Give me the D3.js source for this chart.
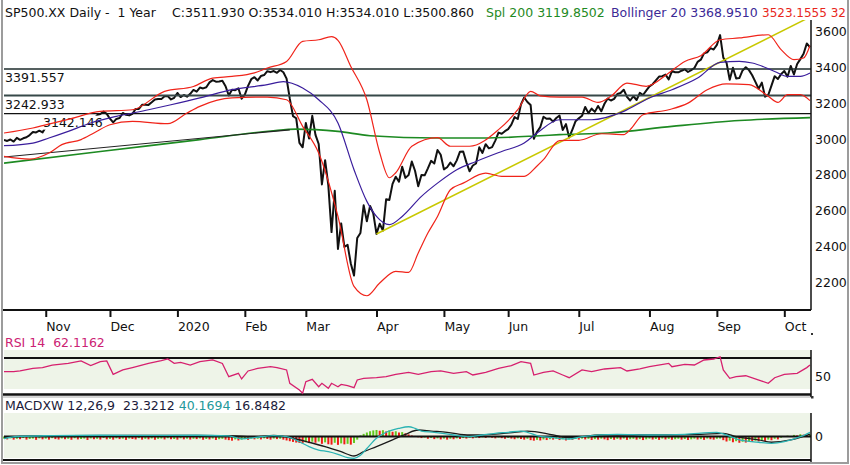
<!DOCTYPE html>
<html>
<head>
<meta charset="utf-8">
<script src="https://cdn.jsdelivr.net/npm/d3@7"></script>
<style>
  body { margin: 0; background: #fff; }
  svg { display: block; font-family: "DejaVu Sans", sans-serif; }
  text { white-space: pre; }
</style>
</head>
<body>
<div id="chart"></div>
<script>
// ---------------- data (trading day index 0 = 15 Oct 2019, 251 = 13 Oct 2020) ----------------
const closes = [
  2995.68, 2989.69, 2997.95, 2986.20, 3006.72, 2995.99, 3004.52, 3010.29, 3022.55, 3039.42, 3036.89, 3046.77, 3037.56,
  3066.91, 3078.27, 3074.62, 3076.78, 3085.18, 3093.08, 3087.01, 3091.84, 3094.04, 3096.63, 3120.46, 3122.03, 3120.18, 3108.46, 3103.54, 3110.29, 3133.64, 3140.52, 3153.63, 3140.98,
  3113.87, 3093.20, 3112.76, 3117.43, 3145.91, 3135.96, 3132.52, 3141.63, 3168.57, 3168.80, 3191.45, 3192.52, 3191.14, 3205.37, 3221.22, 3224.01, 3223.38, 3239.91, 3240.02, 3221.29, 3230.78,
  3257.85, 3234.85, 3246.28, 3237.18, 3253.05, 3274.70, 3265.35, 3288.13, 3283.15, 3289.29, 3316.81, 3329.62, 3320.79, 3321.75, 3325.54, 3295.47, 3243.63, 3276.24, 3273.40, 3283.66, 3225.52,
  3248.92, 3297.59, 3334.69, 3345.78, 3327.71, 3352.09, 3357.75, 3379.45, 3373.94, 3380.16, 3370.29, 3386.15, 3373.23, 3337.75, 3225.89, 3128.21, 3116.39, 2978.76, 2954.22,
  3090.23, 3003.37, 3130.12, 3023.94, 2972.37, 2746.56, 2882.23, 2741.38, 2480.64, 2711.02, 2386.13, 2529.19, 2398.10, 2409.39, 2304.92, 2237.40, 2447.33, 2475.56, 2630.07, 2541.47, 2626.65, 2584.59,
  2470.50, 2526.90, 2488.65, 2663.68, 2659.41, 2749.98, 2789.82, 2761.63, 2846.06, 2783.36, 2799.55, 2874.56, 2823.16, 2736.56, 2799.31, 2797.80, 2836.74, 2878.48, 2863.39, 2939.51, 2912.43,
  2830.71, 2842.74, 2868.44, 2848.42, 2881.19, 2929.80, 2930.32, 2870.12, 2820.00, 2852.50, 2863.70, 2953.91, 2922.94, 2971.61, 2948.51, 2955.45, 2991.77, 3036.13, 3029.73, 3044.31,
  3055.73, 3080.82, 3122.87, 3112.35, 3193.93, 3232.39, 3207.18, 3190.14, 3002.10, 3041.31, 3066.59, 3124.74, 3113.49, 3115.34, 3097.74, 3117.86, 3131.29, 3050.33, 3083.76, 3009.05, 3053.24, 3100.29,
  3115.86, 3130.01, 3179.72, 3145.32, 3169.94, 3152.05, 3185.04, 3155.22, 3197.52, 3226.56, 3215.57, 3224.73, 3251.84, 3257.30, 3276.02, 3235.66, 3215.63, 3239.41, 3218.44, 3258.44, 3246.22, 3271.12,
  3294.61, 3306.51, 3327.77, 3349.16, 3351.28, 3360.47, 3333.69, 3380.35, 3373.43, 3372.85, 3381.99, 3389.78, 3374.85, 3385.51, 3397.16, 3431.28, 3443.62, 3478.73, 3484.55, 3508.01, 3500.31,
  3526.65, 3580.84, 3455.06, 3426.96, 3331.84, 3398.96, 3339.19, 3340.97, 3383.54, 3401.20, 3385.49, 3357.01, 3319.47, 3281.06, 3315.57, 3236.92, 3246.59, 3298.46, 3351.60, 3335.47, 3363.00,
  3380.80, 3348.44, 3408.63, 3360.97, 3419.44, 3446.83, 3477.13, 3534.22, 3511.93
];

const monthTickIdx = [13, 33, 54, 75, 94, 116, 137, 157, 179, 201, 222, 243];
const monthLabels = ["Nov", "Dec", "2020", "Feb", "Mar", "Apr", "May", "Jun", "Jul", "Aug", "Sep", "Oct"];
const priceTicks = [2200, 2400, 2600, 2800, 3000, 3200, 3400, 3600];
const levels = [3391.557, 3242.933, 3142.146];

// [day index, value]
const bbUpper = [[0,3034],[9,3062],[12,3075],[20,3110],[30,3155],[40,3164],[50,3267],[59,3294],[65,3341],[71,3350],[78,3370],[82,3397],[88,3434],[93,3546],[98,3555],[102,3572],[104,3552],[108,3406],[113,3220],[117,2924],[120,2784],[122,2812],[127,2960],[135,3008],[139,2960],[145,2960],[154,3053],[160,3164],[164,3267],[167,3242],[173,3235],[180,3235],[185,3205],[189,3239],[194,3313],[200,3295],[207,3369],[212,3434],[217,3466],[223,3555],[229,3565],[238,3583],[242,3500],[246,3444],[249,3453],[251,3523]];
const bbMiddle = [[0,2963],[9,2978],[14,3006],[20,3043],[27,3090],[35,3127],[45,3164],[52,3192],[61,3230],[71,3276],[82,3304],[87,3321],[93,3285],[98,3220],[104,3090],[109,2829],[113,2652],[116,2568],[120,2522],[124,2568],[130,2680],[135,2754],[141,2829],[147,2875],[155,2931],[162,2978],[166,3034],[173,3108],[183,3108],[193,3155],[201,3230],[208,3276],[216,3341],[223,3429],[229,3434],[233,3425],[240,3378],[244,3350],[248,3350],[251,3369]];
const bbLower = [[0,2903],[8,2888],[14,2922],[18,2969],[24,2997],[28,3034],[33,3080],[40,3099],[51,3086],[57,3146],[61,3183],[71,3230],[82,3235],[88,3220],[93,3071],[98,2922],[104,2568],[109,2177],[113,2125],[117,2196],[122,2261],[126,2255],[129,2364],[132,2475],[135,2568],[139,2717],[143,2754],[150,2810],[155,2792],[162,2792],[166,2850],[168,2885],[173,2992],[179,2993],[186,3030],[193,3025],[195,3053],[199,3136],[207,3164],[213,3201],[219,3276],[225,3309],[232,3304],[238,3239],[241,3205],[244,3248],[248,3248],[251,3215]];
const sma200 = [[0,2866],[30,2931],[61,2997],[83,3045],[91,3056],[104,3043],[114,3019],[135,3006],[149,3006],[167,3019],[173,3025],[188,3034],[208,3071],[229,3104],[251,3120]];
const trendBlack = [[0,2900],[89,3052]];
const trendYellow = [[116,2470],[251,3682]];

const rsi = [[0,54.8],[3,54.8],[5,55.6],[9,58.5],[12,59.3],[15,62.2],[20,64],[24,66.7],[27,61.5],[30,65.9],[32,66.7],[34,51.9],[37,56.7],[40,59.3],[45,64],[49,67],[51,68.9],[53,64],[55,65.2],[58,62.2],[61,65.9],[65,67.8],[68,64],[70,49.2],[73,53],[74,46.7],[76,55.6],[79,58.5],[83,60.3],[85,59.3],[88,56.7],[89,41.9],[92,34.4],[93,30.8],[94,43.7],[96,46.3],[98,38.1],[99,41.9],[101,36.3],[102,41.9],[104,38.1],[105,40.7],[107,39.2],[109,37],[110,45.6],[112,47.4],[116,48.1],[119,49.2],[122,51.9],[126,54.1],[129,51.9],[133,54.8],[136,55.6],[140,53],[144,54.8],[146,51.1],[150,54.1],[154,58.5],[158,61.5],[161,65.9],[164,64],[165,51.1],[168,54.1],[171,55.6],[174,51.1],[176,48.1],[180,56.7],[183,54.8],[187,57.8],[192,59.3],[194,55.6],[198,57.8],[201,60.3],[207,64],[208,60.3],[212,63],[215,62.2],[218,67.8],[221,68.9],[223,71.4],[224,56.7],[226,47.4],[228,49.2],[231,50.3],[236,44.4],[238,41.9],[240,48.1],[243,51.9],[247,53],[250,59.3],[251,62.1]];
const rsiTicks = [50];

const macd = [[0,-20],[4,0],[15,8],[30,12],[45,10],[60,12],[70,5],[74,-22],[78,-10],[84,8],[88,-2],[92,-50],[95,-97],[98,-129],[101,-145],[104,-170],[107,-202],[109,-208],[111,-180],[113,-115],[116,-17],[119,40],[123,78],[126,93],[128,78],[130,52],[134,40],[140,14],[145,-2],[149,14],[153,30],[157,40],[161,52],[163,40],[166,8],[171,-11],[176,-24],[180,-2],[191,21],[201,14],[212,21],[222,40],[225,14],[229,-33],[235,-55],[239,-65],[243,-50],[248,-2],[251,40]];
const signal = [[0,-10],[5,0],[20,8],[40,10],[60,10],[72,5],[78,-5],[84,10],[91,-24],[95,-55],[100,-97],[105,-145],[109,-186],[112,-145],[116,-97],[121,-33],[125,21],[129,62],[133,52],[138,40],[145,14],[152,21],[159,40],[163,52],[171,15],[176,-11],[186,14],[201,14],[217,21],[224,30],[228,-2],[235,-33],[239,-55],[245,-33],[251,23]];
const histogram = [
  -20,-28,-18,-30,-22,-26,-15,-30,-24,-20,-32,-18,-27,-21,-30,-16,-25,-29,-19,-26,
  -22,-31,-17,-28,-24,-20,-33,-19,-26,-22,-29,-15,-27,-23,-30,-18,-25,-21,-32,-20,
  -24,-28,-16,-30,-22,-27,-19,-31,-23,-20,-28,-17,-26,-24,-30,-18,-27,-21,-29,-22,
  -25,-19,-31,-24,-28,-20,-33,-26,-22,-30,-35,-40,-28,-38,-30,-25,-32,-20,-27,-22,
  -28,-18,-24,-30,
  -20,-25,-22,-30,-38,-45,-52,-58,-62,-66,-55,-63,-50,-60,-48,-70,-56,-74,-78,-60,-80,-66,-75,-70,-78,-62,
  -30,10,25,38,50,58,62,55,60,48,58,45,50,38,42,30,
  20,10,5,-8,-15,-10,-22,-14,-25,-18,-28,-20,-30,-22,-26,-18,-24,-15,-20,-12,-18,-10,-15,-8,-14,-6,-12,-18,-10,-16,-22,-14,-20,-26,-18,-24,-30,-22,-35,-40,-32,-38,-28,-34,-26,
  -30,-22,-34,-26,-38,-28,-32,-24,-30,-20,-28,-22,-33,-25,-30,-21,-27,-35,-24,-31,
  -23,-29,-20,-32,-26,-22,-30,-25,-34,-27,-21,-29,-24,-32,-20,-28,-23,-31,-26,-22,
  -30,-24,-33,-27,-21,-29,-25,-32,-20,-26,-30,-22,
  -20,-35,-48,-40,-55,-45,-60,-50,-58,-44,-52,-40,-47,-35,-42,-30,-36,-22,-28,-12,-5,8,2,15,10,22,18,14,17
];
const macdTicks = [0];

// ---------------- layout ----------------
const W = 850, H = 465;
const plotLeft = 4, plotRight = 811;
const mainTop = 20, mainBottom = 310;

const svg = d3.select("#chart").append("svg")
  .attr("width", W)
  .attr("height", H);

const x = d3.scaleLinear().domain([0, closes.length - 1]).range([4, 810]);
const yP = d3.scaleLinear().domain([2200, 3600]).range([282.3, 31.7]);
const yR = d3.scaleLinear().domain([30, 70]).range([394, 358]);
const yM = d3.scaleLinear().domain([-210, 224]).range([458.5, 413]);

svg.append("defs").append("clipPath").attr("id", "mainClip")
  .append("rect").attr("x", plotLeft).attr("y", mainTop)
  .attr("width", plotRight - plotLeft).attr("height", mainBottom - mainTop);

// header (the lower band value is cut by the window edge in the original, only "32" shows)
const header = svg.append("g").attr("font-size", 12.5);
const headerParts = [
  { t: "SP500.XX Daily -  1 Year", x: 5, c: "#111", s: 12.5 },
  { t: "C:3511.930 O:3534.010 H:3534.010 L:3500.860", x: 172, c: "#111", s: 12.5 },
  { t: "Spl 200 3119.8502", x: 486, c: "#1f8a24", s: 12.5 },
  { t: "Bollinger 20 3368.9510", x: 611, c: "#3b2a96", s: 12.5 },
  { t: "3523.1555 32", x: 762, c: "#e8261c", s: 12 }
];
header.selectAll("text").data(headerParts).enter().append("text")
  .attr("x", d => d.x).attr("y", 17)
  .attr("font-size", d => d.s)
  .attr("fill", d => d.c)
  .text(d => d.t);

// ---------------- main price panel ----------------
const main = svg.append("g").attr("clip-path", "url(#mainClip)");

const idxLine = (yScale, curve) => d3.line()
  .x(d => x(d[0])).y(d => yScale(d[1])).curve(curve || d3.curveLinear);

// price
main.append("path")
  .datum(closes.map((v, i) => [i, v]))
  .attr("d", idxLine(yP))
  .attr("fill", "none").attr("stroke", "#111").attr("stroke-width", 2)
  .attr("stroke-linejoin", "round");

// horizontal levels with labels
const levelStyle = [{ w: 1.6, c: "#1d2b2b" }, { w: 2, c: "#364848" }, { w: 1.3, c: "#111" }];
const levelLabelX = [5, 5, 43];
levels.forEach((lv, i) => {
  main.append("line")
    .attr("x1", plotLeft).attr("x2", plotRight)
    .attr("y1", yP(lv)).attr("y2", yP(lv))
    .attr("stroke", levelStyle[i].c).attr("stroke-width", levelStyle[i].w);
  const t = main.append("text")
    .attr("x", levelLabelX[i]).attr("y", yP(lv) + 13)
    .attr("font-size", 12.5).attr("fill", "#111")
    .text(lv.toFixed(3));
  const bb = t.node().getBBox();
  main.insert("rect", () => t.node())
    .attr("x", bb.x - 1).attr("y", bb.y + 1)
    .attr("width", bb.width + 2).attr("height", bb.height - 1)
    .attr("fill", "#fff");
});

// indicators
main.append("path").datum(sma200)
  .attr("d", idxLine(yP, d3.curveMonotoneX))
  .attr("fill", "none").attr("stroke", "#1d8a22").attr("stroke-width", 1.6);
main.append("path").datum(trendBlack)
  .attr("d", idxLine(yP))
  .attr("fill", "none").attr("stroke", "#222").attr("stroke-width", 1.2);
main.append("path").datum(trendYellow)
  .attr("d", idxLine(yP))
  .attr("fill", "none").attr("stroke", "#c8c800").attr("stroke-width", 1.5);
main.append("path").datum(bbMiddle)
  .attr("d", idxLine(yP, d3.curveMonotoneX))
  .attr("fill", "none").attr("stroke", "#3a1d9c").attr("stroke-width", 1.2);
[bbUpper, bbLower].forEach(band => {
  main.append("path").datum(band)
    .attr("d", idxLine(yP, d3.curveMonotoneX))
    .attr("fill", "none").attr("stroke", "#f0241a").attr("stroke-width", 1.2);
});

// axes of main panel
const xAxis = d3.axisBottom(x)
  .tickValues(monthTickIdx)
  .tickFormat((d, i) => monthLabels[i])
  .tickSize(7).tickPadding(5);
const gx = svg.append("g").attr("transform", `translate(0,${mainBottom})`).call(xAxis);
gx.select(".domain").remove();
gx.selectAll(".tick line").attr("stroke", "#111").attr("stroke-width", 2);
gx.selectAll(".tick text")
  .attr("text-anchor", "start").attr("x", 0).attr("dy", "0.71em")
  .attr("font-size", 12.5).attr("font-family", "DejaVu Sans").attr("fill", "#111");

svg.append("line")
  .attr("x1", 3).attr("x2", plotRight).attr("y1", mainBottom).attr("y2", mainBottom)
  .attr("stroke", "#111").attr("stroke-width", 2);

const yAxis = d3.axisRight(yP).tickValues(priceTicks).tickFormat(d3.format("d"))
  .tickSize(0).tickPadding(4);
const gy = svg.append("g").attr("transform", `translate(${plotRight},0)`).call(yAxis);
gy.select(".domain").remove();
gy.selectAll(".tick text")
  .attr("font-size", 12.5).attr("font-family", "DejaVu Sans").attr("fill", "#111");
svg.append("line")
  .attr("x1", plotRight).attr("x2", plotRight).attr("y1", mainTop).attr("y2", mainBottom)
  .attr("stroke", "#111").attr("stroke-width", 1.5);
svg.append("rect").attr("x", 811).attr("y", 333).attr("width", 2).attr("height", 2).attr("fill", "#333");

// ---------------- RSI panel ----------------
svg.append("text").attr("x", 5).attr("y", 347)
  .attr("font-size", 12.5).attr("fill", "#cc2273")
  .text("RSI 14  62.1162");
svg.append("rect")
  .attr("x", plotLeft).attr("y", 350).attr("width", plotRight - plotLeft).attr("height", 39)
  .attr("fill", "#eef4e8");
svg.append("line")
  .attr("x1", plotLeft).attr("x2", plotRight).attr("y1", yR(70)).attr("y2", yR(70))
  .attr("stroke", "#111").attr("stroke-width", 2);
svg.append("line")
  .attr("x1", 3).attr("x2", plotRight).attr("y1", 394.5).attr("y2", 394.5)
  .attr("stroke", "#111").attr("stroke-width", 2.5);
svg.append("line")
  .attr("x1", 3).attr("x2", plotRight).attr("y1", 397).attr("y2", 397)
  .attr("stroke", "#aaa").attr("stroke-width", 1);
svg.append("path").datum(rsi)
  .attr("d", idxLine(yR))
  .attr("fill", "none").attr("stroke", "#d6206e").attr("stroke-width", 1.3);
const gr = svg.append("g").attr("transform", `translate(${plotRight},0)`)
  .call(d3.axisRight(yR).tickValues(rsiTicks).tickSize(0).tickPadding(4));
gr.select(".domain").remove();
gr.selectAll(".tick text").attr("font-size", 12.5).attr("font-family", "DejaVu Sans").attr("fill", "#111");
svg.append("line")
  .attr("x1", plotRight).attr("x2", plotRight).attr("y1", 350).attr("y2", 397)
  .attr("stroke", "#111").attr("stroke-width", 1.5);
svg.append("rect").attr("x", 811).attr("y", 396).attr("width", 2.5).attr("height", 2.5).attr("fill", "#333");

// ---------------- MACD panel ----------------
const macdLabel = svg.append("text").attr("x", 5).attr("y", 410).attr("font-size", 12.5);
macdLabel.append("tspan").attr("fill", "#1b1b3a").text("MACDXW 12,26,9  23.3212 ");
macdLabel.append("tspan").attr("fill", "#23999a").text("40.1694 ");
macdLabel.append("tspan").attr("fill", "#1b1b3a").text("16.8482");

svg.append("rect")
  .attr("x", plotLeft).attr("y", 413).attr("width", plotRight - plotLeft).attr("height", 45)
  .attr("fill", "#eef4e8");

svg.append("g").selectAll("rect").data(histogram).enter().append("rect")
  .attr("x", (d, i) => x(i) - 1)
  .attr("y", d => Math.min(yM(d), yM(0)))
  .attr("width", 2)
  .attr("height", d => Math.abs(yM(d) - yM(0)))
  .attr("fill", (d, i) => (i > 0 && d < histogram[i - 1]) ? "#f01c16" : "#62c81e");

svg.append("line")
  .attr("x1", plotLeft).attr("x2", plotRight).attr("y1", yM(0)).attr("y2", yM(0))
  .attr("stroke", "#111").attr("stroke-width", 2);
svg.append("path").datum(signal)
  .attr("d", idxLine(yM, d3.curveMonotoneX))
  .attr("fill", "none").attr("stroke", "#1a1a1a").attr("stroke-width", 1.3);
svg.append("path").datum(macd)
  .attr("d", idxLine(yM, d3.curveMonotoneX))
  .attr("fill", "none").attr("stroke", "#2bb3b3").attr("stroke-width", 1.3);

svg.append("line")
  .attr("x1", 3).attr("x2", plotRight).attr("y1", 460).attr("y2", 460)
  .attr("stroke", "#111").attr("stroke-width", 2);
const gm = svg.append("g").attr("transform", `translate(${plotRight},0)`)
  .call(d3.axisRight(yM).tickValues(macdTicks).tickSize(0).tickPadding(4));
gm.select(".domain").remove();
gm.selectAll(".tick text").attr("font-size", 12.5).attr("font-family", "DejaVu Sans").attr("fill", "#111");
svg.append("line")
  .attr("x1", plotRight).attr("x2", plotRight).attr("y1", 413).attr("y2", 462)
  .attr("stroke", "#111").attr("stroke-width", 1.5);

// outer frame
svg.append("rect")
  .attr("x", 2).attr("y", -5).attr("width", 846).attr("height", 468)
  .attr("fill", "none").attr("stroke", "#9c9c9c").attr("stroke-width", 2);
</script>
</body>
</html>
